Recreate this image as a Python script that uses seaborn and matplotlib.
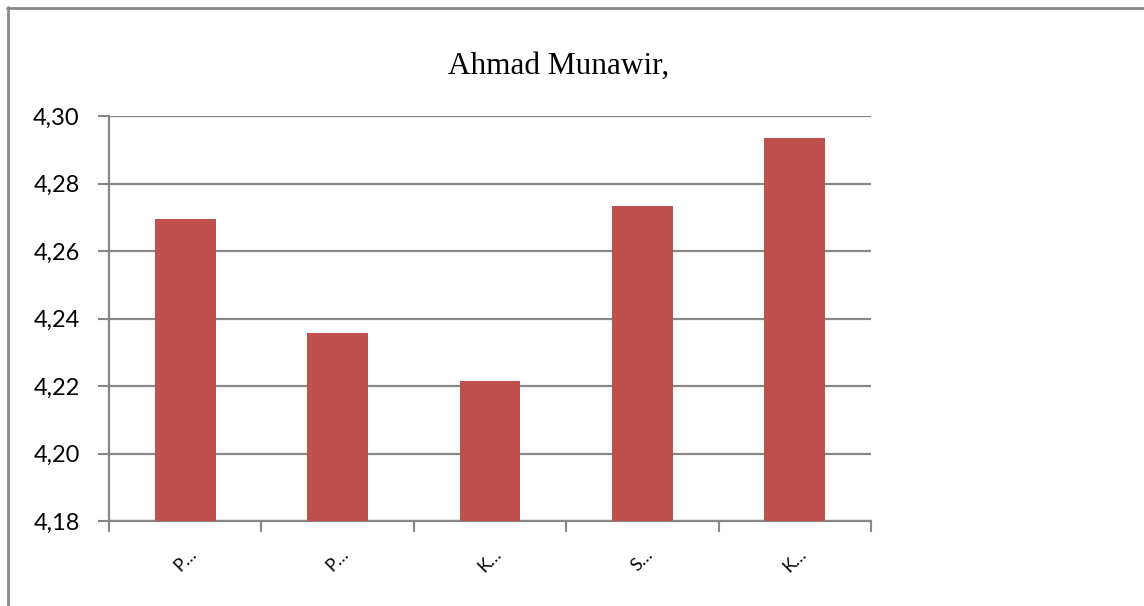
import numpy as np
import pandas as pd
import seaborn as sns
import matplotlib.pyplot as plt
from matplotlib.lines import Line2D
from matplotlib.ticker import FixedLocator

# data
categories = ["P1", "P2", "K1", "S1", "K2"]
tick_labels = ["P\u2026", "P\u2026", "K\u2026", "S\u2026", "K\u2026"]
values = [4.2695, 4.2357, 4.2215, 4.2733, 4.2935]
y_ticks = [4.18, 4.20, 4.22, 4.24, 4.26, 4.28, 4.30]
title = "Ahmad Munawir,"

df = pd.DataFrame({"cat": categories, "val": values})

sns.set_style("white")
plt.rcParams["font.family"] = ["Lato", "DejaVu Sans"]
plt.rcParams["text.color"] = "black"
plt.rcParams["xtick.color"] = "black"
plt.rcParams["ytick.color"] = "black"

grey = "#878787"
fig = plt.figure(figsize=(11.44, 6.06), dpi=100)
ax = fig.add_axes([109 / 1144, 1 - 521 / 606, (871 - 109) / 1144, (521 - 116) / 606])

sns.barplot(data=df, x="cat", y="val", color="#c0504d", saturation=1,
            width=0.4, ax=ax, zorder=3)
for p in ax.patches:
    p.set_edgecolor("none")

ax.set_ylim(4.18, 4.30)
ax.set_xlim(-0.5, len(categories) - 0.5)
ax.set_yticks(y_ticks)
ax.set_yticklabels([f"{t:.2f}".replace(".", ",") for t in y_ticks], fontsize=17)
ax.yaxis.grid(True, color=grey, linewidth=1.6, zorder=0)
ax.set_axisbelow(True)

ax.set_xticks(range(len(categories)))
ax.set_xticklabels(tick_labels, rotation=45, fontsize=13)
ax.tick_params(axis="x", which="major", length=0, pad=18, bottom=True)
ax.xaxis.set_minor_locator(FixedLocator(np.arange(-0.5, len(categories), 1.0)))
ax.tick_params(axis="x", which="minor", length=8, color=grey, width=1.5,
               direction="out", bottom=True)
ax.tick_params(axis="y", length=8, color=grey, labelcolor="black", width=1.5,
               direction="out", pad=13, left=True)
ax.set_xlabel("")
ax.set_ylabel("")

for s in ["top", "right"]:
    ax.spines[s].set_visible(False)
for s in ["left", "bottom"]:
    ax.spines[s].set_color(grey)
    ax.spines[s].set_linewidth(1.6)

fig.text(559 / 1144, 1 - 66 / 606, title, ha="center", va="center",
         fontsize=22.5, family="Liberation Serif", color="black")

# outer chart border
fig.add_artist(Line2D([8 / 1144, 8 / 1144], [0, 1 - 7 / 606], color=grey, linewidth=2,
                      transform=fig.transFigure))
fig.add_artist(Line2D([7 / 1144, 1], [1 - 8 / 606, 1 - 8 / 606], color=grey, linewidth=2,
                      transform=fig.transFigure))

fig.savefig("out.png", dpi=100)
